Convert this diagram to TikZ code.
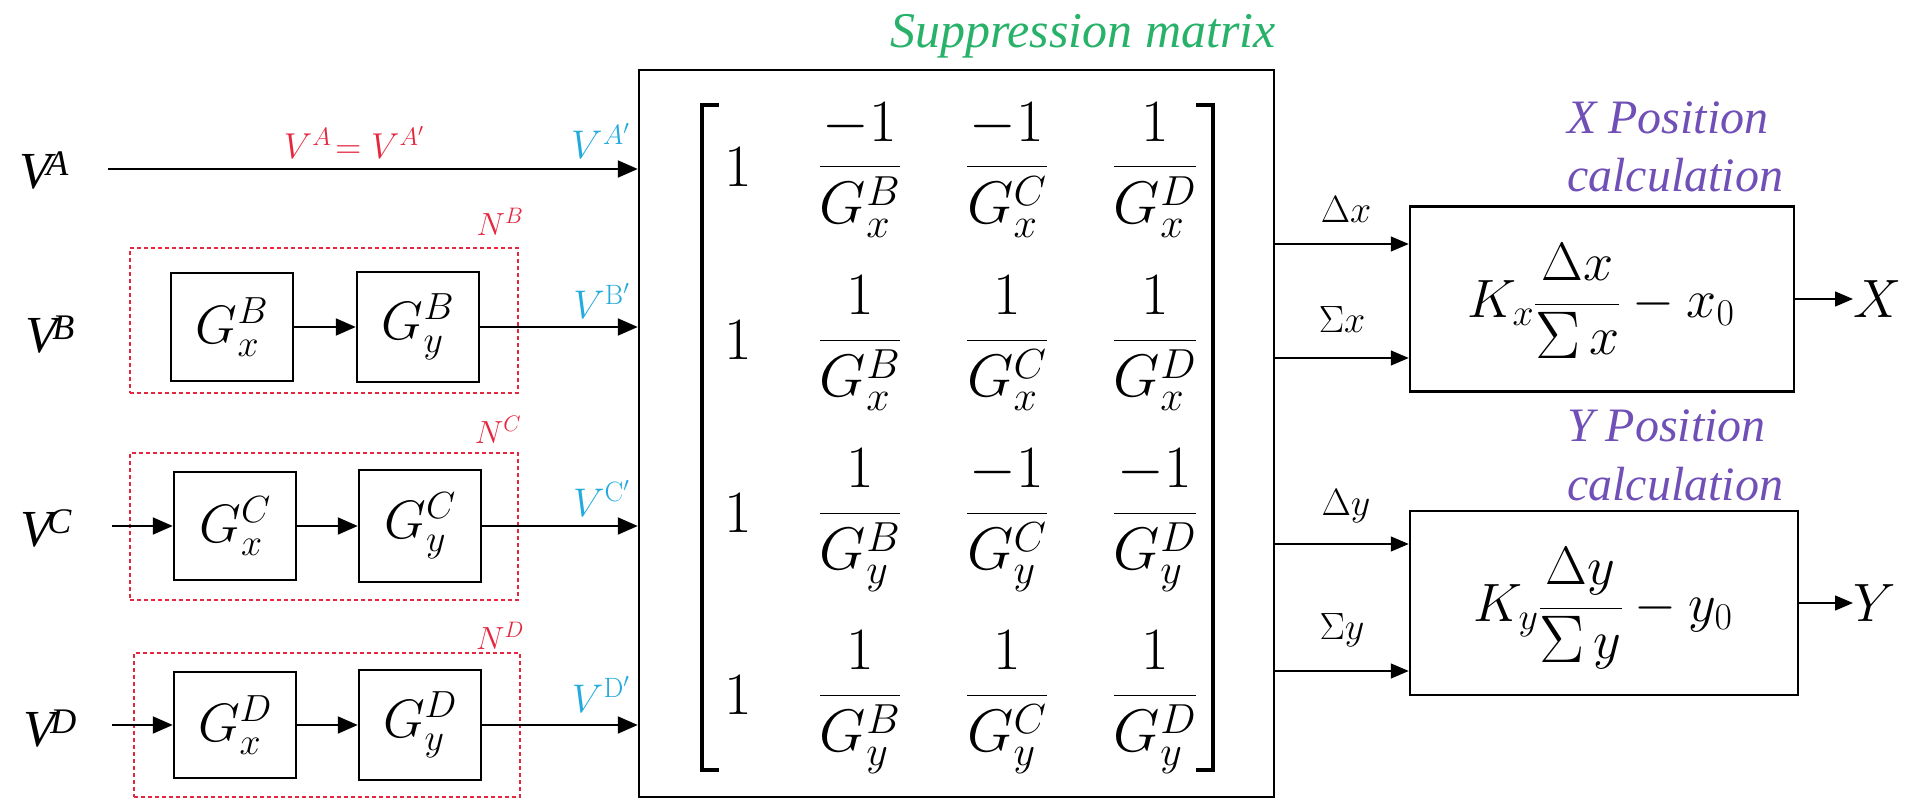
\RequirePackage{fix-cm}
\documentclass[tikz,border=0pt]{standalone}
\usepackage{amsmath}
\usepackage{graphicx}
\usepackage{fontspec}
\newfontfamily\tnr{Liberation Serif}
\usetikzlibrary{arrows.meta}
\definecolor{redlab}{RGB}{228,38,62}
\definecolor{cyanlab}{RGB}{35,170,222}
\definecolor{greenlab}{RGB}{40,178,105}
\definecolor{purplab}{RGB}{112,80,182}
\newcommand\Vin[1]{{\tnr\itshape\fontsize{52}{52}\selectfont V\kern-5pt\raisebox{13pt}{\fontsize{36}{36}\selectfont #1}}}
\newcommand\bigS{\raisebox{-4pt}{\scalebox{1.25}{$\Sigma$}}\,}
\tikzset{
  blk/.style={draw, line width=2.5pt, inner sep=0pt},
  grp/.style={draw=redlab, line width=1.6pt, dash pattern=on 4pt off 3pt, inner sep=0pt},
  sig/.style={line width=2pt, -{Triangle[length=20pt,width=17pt]}},
  sigr/.style={line width=1.5pt, -{Triangle[length=18pt,width=15pt]}},
  ent/.style={inner sep=0pt, font=\fontsize{60}{66}\selectfont},
  gtxt/.style={font=\fontsize{54}{60}\selectfont},
  vlab/.style={inner sep=0pt},
  cyl/.style={inner sep=0pt, text=cyanlab, font=\fontsize{40}{44}\selectfont},
  nlab/.style={inner sep=0pt, text=redlab, font=\fontsize{32}{36}\selectfont},
  plab/.style={inner sep=0pt, text=purplab, font=\tnr\itshape\fontsize{48}{52}\selectfont},
  dlab/.style={inner sep=0pt, font=\fontsize{38}{42}\selectfont},
  form/.style={inner sep=0pt, font=\fontsize{54}{60}\selectfont},
}
\begin{document}
\begin{tikzpicture}[x=1pt,y=-1pt]
\useasboundingbox (0,0) rectangle (1914,799);

% ---------- suppression matrix box ----------
\node[blk, minimum width=635pt, minimum height=727pt] (M) at (956.5,433.5) {};
\node[inner sep=0pt, anchor=base east, text=greenlab, font=\tnr\itshape\fontsize{50}{54}\selectfont] (SM) at (1276,48) {Suppression matrix};

% brackets
\draw[line width=4pt] (719,105) -- (702,105) -- (702,770) -- (719,770);
\draw[line width=4pt] (1196,105) -- (1213,105) -- (1213,770) -- (1196,770);

% entries
\node[ent] (m11) at (738,167) {$1$};
\node[ent, anchor=base] (m12) at (860,182) {$\dfrac{-1}{G_x^B}$};
\node[ent, anchor=base] (m13) at (1007,182) {$\dfrac{-1}{G_x^C}$};
\node[ent, anchor=base] (m14) at (1155,182) {$\dfrac{1}{G_x^D}$};

\node[ent] (m21) at (738,340) {$1$};
\node[ent, anchor=base] (m22) at (860,355) {$\dfrac{1}{G_x^B}$};
\node[ent, anchor=base] (m23) at (1007,355) {$\dfrac{1}{G_x^C}$};
\node[ent, anchor=base] (m24) at (1155,355) {$\dfrac{1}{G_x^D}$};

\node[ent] (m31) at (738,513) {$1$};
\node[ent, anchor=base] (m32) at (860,528) {$\dfrac{1}{G_y^B}$};
\node[ent, anchor=base] (m33) at (1007,528) {$\dfrac{-1}{G_y^C}$};
\node[ent, anchor=base] (m34) at (1155,528) {$\dfrac{-1}{G_y^D}$};

\node[ent] (m41) at (738,695) {$1$};
\node[ent, anchor=base] (m42) at (860,710) {$\dfrac{1}{G_y^B}$};
\node[ent, anchor=base] (m43) at (1007,710) {$\dfrac{1}{G_y^C}$};
\node[ent, anchor=base] (m44) at (1155,710) {$\dfrac{1}{G_y^D}$};

% ---------- left inputs ----------
\node[vlab] (VA) at (44,171) {\Vin{A}};
\node[vlab] (VB) at (50,335) {\Vin{B}};
\node[vlab] (VC) at (46,528) {\Vin{C}};
\node[vlab] (VD) at (50,729) {\Vin{D}};

% A path
\coordinate (a0) at (108,169);
\draw[sig] (a0) -- (a0 -| M.west);
\node[inner sep=0pt, anchor=base, text=redlab, font=\fontsize{36}{40}\selectfont] (eqA) at (354,159) {$V^A\!=V^{A'}$};

% dashed groups
\node[grp, minimum width=388pt, minimum height=145pt] (NBg) at (324,320.5) {};
\node[grp, minimum width=388pt, minimum height=147pt] (NCg) at (324,526.5) {};
\node[grp, minimum width=386pt, minimum height=144pt] (NDg) at (327,725) {};
\node[nlab] (NB) at (500,222) {$N^B$};
\node[nlab] (NC) at (498,430) {$N^C$};
\node[nlab] (ND) at (500,636) {$N^D$};

% B row
\node[blk, gtxt, minimum width=122pt, minimum height=108pt] (GxB) at (232,327) {$G_x^B$};
\node[blk, gtxt, minimum width=122pt, minimum height=110pt] (GyB) at (418,327) {$G_y^B$};
\draw[sig] (GxB) -- (GyB);
\draw[sig] (GyB.east) -- (GyB.east -| M.west);

% C row
\node[blk, gtxt, minimum width=122pt, minimum height=108pt] (GxC) at (235,526) {$G_x^C$};
\node[blk, gtxt, minimum width=122pt, minimum height=112pt] (GyC) at (420,526) {$G_y^C$};
\coordinate (c0) at (112,526);
\draw[sig] (c0) -- (GxC.west);
\draw[sig] (GxC) -- (GyC);
\draw[sig] (GyC.east) -- (GyC.east -| M.west);

% D row
\node[blk, gtxt, minimum width=122pt, minimum height=106pt] (GxD) at (235,725) {$G_x^D$};
\node[blk, gtxt, minimum width=122pt, minimum height=110pt] (GyD) at (420,725) {$G_y^D$};
\coordinate (d0) at (112,725);
\draw[sig] (d0) -- (GxD.west);
\draw[sig] (GxD) -- (GyD);
\draw[sig] (GyD.east) -- (GyD.east -| M.west);

% cyan labels
\node[cyl, anchor=base east] (VAp) at (630,159) {$V^{A'}$};
\node[cyl, anchor=base east] (VBp) at (630,319) {$V^{\mathrm{B}'}$};
\node[cyl, anchor=base east] (VCp) at (630,516) {$V^{\mathrm{C}'}$};
\node[cyl, anchor=base east] (VDp) at (630,712) {$V^{\mathrm{D}'}$};

% ---------- right part ----------
\node[blk, minimum width=384pt, minimum height=185pt] (XB) at (1602,299) {};
\node[blk, minimum width=388pt, minimum height=184pt] (YB) at (1604,603) {};
\node[form, anchor=base] (XF) at (1601,317.5) {$K_x\dfrac{\Delta x}{\bigS x}-x_0$};
\node[form, anchor=base] (YF) at (1603,621.5) {$K_y\dfrac{\Delta y}{\bigS y}-y_0$};

\node[plab, anchor=base west] (XP1) at (1567,134) {X Position};
\node[plab, anchor=base west] (XP2) at (1567,192) {calculation};
\node[plab, anchor=base west] (YP1) at (1567,441) {Y Position};
\node[plab, anchor=base west] (YP2) at (1567,500) {calculation};

\coordinate (dxs) at (M.east |- 0,244);
\coordinate (sxs) at (M.east |- 0,358);
\coordinate (dys) at (M.east |- 0,544);
\coordinate (sys) at (M.east |- 0,671);
\draw[sigr] (dxs) -- (dxs -| XB.west);
\draw[sigr] (sxs) -- (sxs -| XB.west);
\draw[sigr] (dys) -- (dys -| YB.west);
\draw[sigr] (sys) -- (sys -| YB.west);

\node[dlab] (DX) at (1346,210) {$\Delta x$};
\node[dlab] (SX) at (1342,320) {$\Sigma x$};
\node[dlab] (DY) at (1346,506) {$\Delta y$};
\node[dlab] (SY) at (1342,630) {$\Sigma y$};

\node[inner sep=0pt, anchor=west, font=\fontsize{54}{60}\selectfont] (XL) at (1853,299) {$X$};
\node[inner sep=0pt, anchor=west, font=\fontsize{54}{60}\selectfont] (YL) at (1853,603) {$Y$};
\draw[sigr] (XB.east) -- (XL.west);
\draw[sigr] (YB.east) -- (YL.west);
\end{tikzpicture}
\end{document}
